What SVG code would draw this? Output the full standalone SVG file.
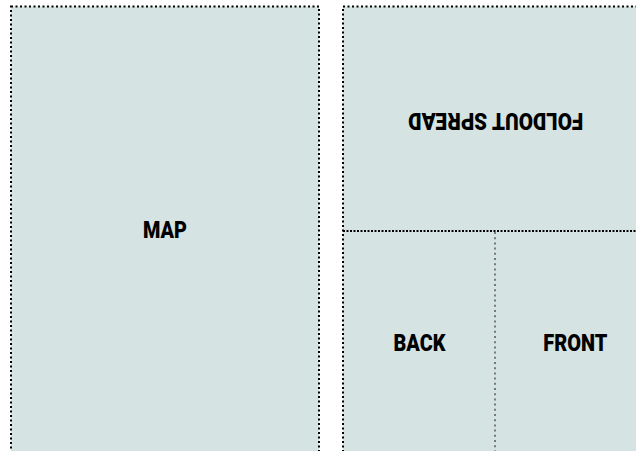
<svg xmlns="http://www.w3.org/2000/svg" width="636" height="451" viewBox="0 0 636 451">
<style>
.panel{fill:#d5e4e2;stroke:#000;stroke-width:2;stroke-dasharray:2 2.5}
.div{fill:none;stroke:#000;stroke-width:2;stroke-dasharray:2 1.5}
.divg{fill:none;stroke:#777;stroke-width:2;stroke-dasharray:2 3.2}
.lbl{font-family:Roboto,"Liberation Sans",sans-serif;font-weight:900;font-size:23.5px;fill:#000;text-anchor:middle}
</style>
<rect width="636" height="451" fill="#fff"/>
<g id="map">
<rect class="panel" x="11" y="6.5" width="308" height="480"/>
<text class="lbl" x="165" y="237.5" textLength="44" lengthAdjust="spacingAndGlyphs">MAP</text>
</g>
<g id="foldout">
<rect class="panel" x="343" y="6.5" width="330" height="480"/>
<text class="lbl" transform="rotate(180 495.7 120.5)" x="495.7" y="128.5" textLength="175" lengthAdjust="spacingAndGlyphs">FOLDOUT SPREAD</text>
</g>
<g id="connectors">
<line class="div" x1="343" y1="231" x2="636" y2="231"/>
<line class="divg" x1="495" y1="232" x2="495" y2="451"/>
</g>
<g id="back">
<text class="lbl" x="419.5" y="351.3" textLength="52" lengthAdjust="spacingAndGlyphs">BACK</text>
</g>
<g id="front">
<text class="lbl" x="575.3" y="351.3" textLength="64" lengthAdjust="spacingAndGlyphs">FRONT</text>
</g>
</svg>
